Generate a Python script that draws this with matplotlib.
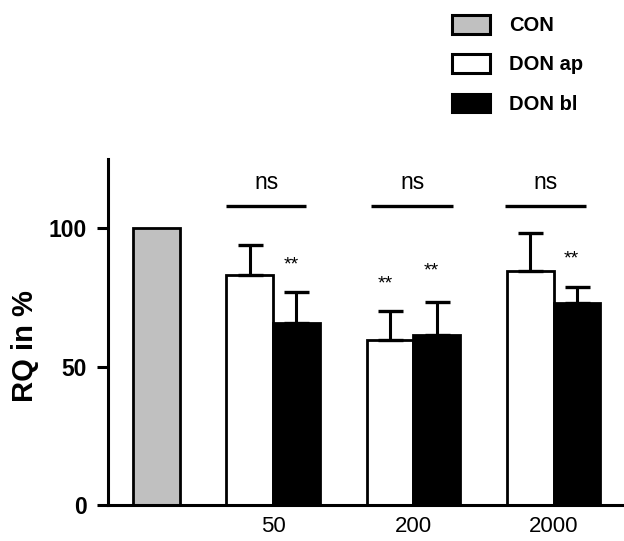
import matplotlib
matplotlib.use("Agg")
import matplotlib.pyplot as plt
from matplotlib.patches import Patch

plt.rcParams['font.family'] = ['Liberation Sans', 'DejaVu Sans']

# ---- data ----
series_names = ["CON", "DON ap", "DON bl"]
series_colors = ["#c0c0c0", "#ffffff", "#000000"]
doses = ["50", "200", "2000"]
con_value = 100.0
ap_values = [83.0, 59.6, 84.5]
ap_err = [10.9, 10.4, 13.7]
bl_values = [65.7, 61.4, 72.9]
bl_err = [11.2, 11.9, 5.8]
ns_labels = ["ns", "ns", "ns"]
star_ap = ["", "**", ""]
star_bl = ["**", "**", "**"]

# ---- layout positions (bar slots) ----
con_x = 0.0
ap_x = [2.0, 5.0, 8.0]
bl_x = [3.0, 6.0, 9.0]
group_x = [2.5, 5.5, 8.5]
ns_x0 = [1.5, 4.6, 7.45]
ns_x1 = [3.2, 6.35, 9.2]
ns_y = 108.0
ns_text_y = 116.6
star_y_ap = [0, 80.0, 0]
star_y_bl = [86.7, 84.5, 89.0]

W, H = 624, 541
fig = plt.figure(figsize=(W / 100, H / 100), dpi=100)
ax = fig.add_axes([108 / W, 36 / H, (622 - 108) / W, (505 - 159) / H])

lw = 2.0
ax.bar([con_x], [con_value], width=1.0, color=series_colors[0], edgecolor='black', linewidth=lw, zorder=2)
ax.bar(ap_x, ap_values, width=1.0, color=series_colors[1], edgecolor='black', linewidth=lw, zorder=2)
ax.bar(bl_x, bl_values, width=1.0, color=series_colors[2], edgecolor='black', linewidth=lw, zorder=2)

ax.errorbar(ap_x, ap_values, yerr=[[0] * 3, ap_err], fmt='none', ecolor='black',
            elinewidth=2.2, capsize=9, capthick=2.4, zorder=3)
ax.errorbar(bl_x, bl_values, yerr=[[0] * 3, bl_err], fmt='none', ecolor='black',
            elinewidth=2.2, capsize=9, capthick=2.4, zorder=3)

for i in range(3):
    ax.plot([ns_x0[i], ns_x1[i]], [ns_y, ns_y], color='black', lw=2.4, solid_capstyle='butt')
    ax.text((ns_x0[i] + ns_x1[i]) / 2, ns_text_y, ns_labels[i], ha='center', va='center', fontsize=16.5)
    if star_ap[i]:
        ax.text(ap_x[i] - 0.1, star_y_ap[i], star_ap[i], ha='center', va='center', fontsize=14)
    if star_bl[i]:
        ax.text(bl_x[i] - 0.12, star_y_bl[i], star_bl[i], ha='center', va='center', fontsize=14)

ax.set_xlim(-1.03, 9.96)
ax.set_ylim(0, 125)
ax.set_yticks([0, 50, 100])
ax.set_yticklabels(["0", "50", "100"], fontsize=16.5, fontweight='bold')
ax.set_xticks(group_x)
ax.set_xticklabels(doses, fontsize=16)
ax.tick_params(axis='x', length=0, pad=8)
ax.tick_params(axis='y', length=8, width=2.2, pad=7)
for s in ['top', 'right']:
    ax.spines[s].set_visible(False)
for s in ['left', 'bottom']:
    ax.spines[s].set_linewidth(2.2)

ax.set_ylabel("RQ in %", fontsize=21, fontweight='bold', va='center', ha='center')
ax.yaxis.set_label_coords((25 - 108) / (622 - 108), (505 - 346) / (505 - 159))

handles = [Patch(facecolor=c, edgecolor='black', linewidth=2.2) for c in series_colors]
leg = fig.legend(handles, series_names, loc='upper left',
                 bbox_to_anchor=(452 / W, 1 - 15 / H), frameon=False,
                 borderpad=0, borderaxespad=0, handlelength=1.89, handleheight=1.04,
                 handletextpad=0.95, labelspacing=0.95,
                 prop={'weight': 'bold', 'size': 14.5})

fig.savefig("out.png", dpi=100)
